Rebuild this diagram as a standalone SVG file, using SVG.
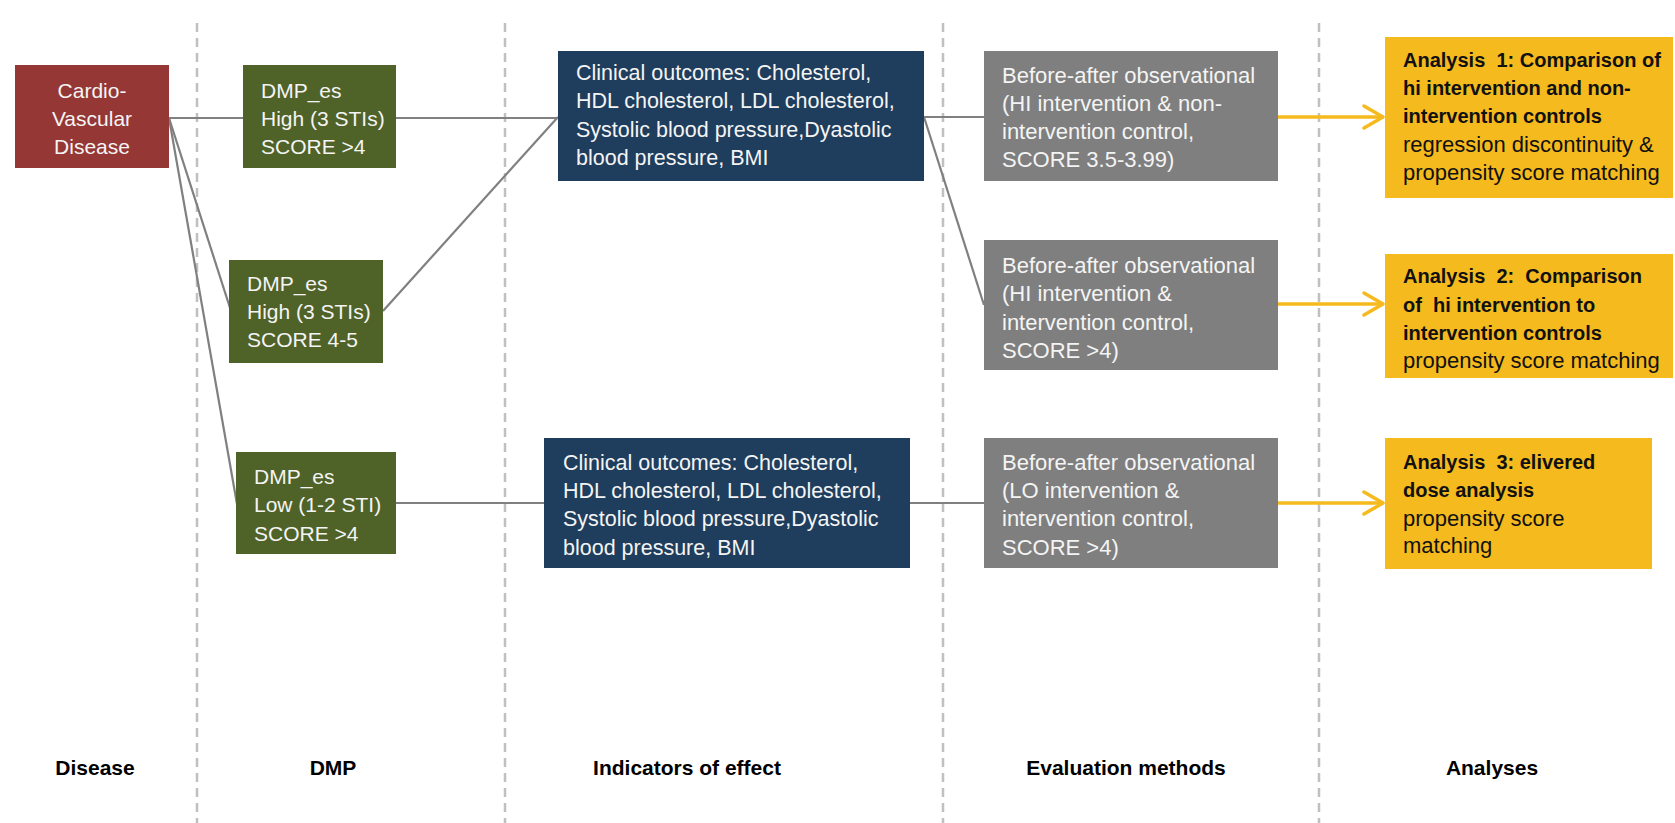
<svg xmlns="http://www.w3.org/2000/svg" width="1675" height="823" viewBox="0 0 1675 823">
  <style>
    .bg { fill: #ffffff; }
    .divider { stroke: #c0c0c0; stroke-width: 2.5; stroke-dasharray: 9 6; fill: none; }
    .link { stroke: #808080; stroke-width: 2.2; fill: none; }
    .flow { stroke: #f5ba1e; stroke-width: 3.5; fill: none; stroke-linecap: round; stroke-linejoin: round; }
    .disease { fill: #953735; }
    .dmp { fill: #4f6228; }
    .indicator { fill: #1f3d5c; }
    .method { fill: #7f7f7f; }
    .analysis { fill: #f5ba1e; }
    text { font-family: "Liberation Sans", Arial, sans-serif; }
    .wt { fill: #f4f4f4; font-size: 21px; }
    .ind { fill: #f4f4f4; font-size: 21.5px; }
    .ev { fill: #f4f4f4; font-size: 22px; }
    .bt { fill: #111111; font-size: 20px; font-weight: bold; }
    .rt { fill: #111111; font-size: 22px; }
    .hd { fill: #000000; font-size: 21px; font-weight: bold; text-anchor: middle; }
  </style>

  <rect class="bg" x="0" y="0" width="1675" height="823"/>

  <!-- column dividers -->
  <g id="dividers">
    <line class="divider" x1="197" y1="23" x2="197" y2="823"/>
    <line class="divider" x1="505" y1="23" x2="505" y2="823"/>
    <line class="divider" x1="943" y1="23" x2="943" y2="823"/>
    <line class="divider" x1="1319" y1="23" x2="1319" y2="823"/>
  </g>

  <!-- connectors -->
  <g id="connectors">
    <line class="link" x1="169" y1="118" x2="243" y2="118"/>
    <line class="link" x1="169" y1="118" x2="231" y2="311"/>
    <line class="link" x1="169" y1="118" x2="237" y2="504"/>
    <line class="link" x1="396" y1="118" x2="558" y2="118"/>
    <line class="link" x1="383" y1="311" x2="558" y2="117"/>
    <line class="link" x1="396" y1="503" x2="544" y2="503"/>
    <line class="link" x1="924" y1="117" x2="984" y2="117"/>
    <line class="link" x1="924" y1="117" x2="984" y2="305"/>
    <line class="link" x1="910" y1="503" x2="984" y2="503"/>
    <line class="flow" x1="1278" y1="117" x2="1382" y2="117"/>
    <polyline class="flow" points="1364,106 1383,117 1364,128"/>
    <line class="flow" x1="1278" y1="304" x2="1382" y2="304"/>
    <polyline class="flow" points="1364,293 1383,304 1364,315"/>
    <line class="flow" x1="1278" y1="503" x2="1382" y2="503"/>
    <polyline class="flow" points="1364,492 1383,503 1364,514"/>
  </g>

  <g id="cvd">
    <rect class="disease" x="15" y="65" width="154" height="103"/>
    <text class="wt" x="92" y="98" text-anchor="middle">Cardio-</text>
    <text class="wt" x="92" y="126" text-anchor="middle">Vascular</text>
    <text class="wt" x="92" y="154" text-anchor="middle">Disease</text>
  </g>

  <g id="dmp-high-1">
    <rect class="dmp" x="243" y="65" width="153" height="103"/>
    <text class="wt" x="261" y="98">DMP_es</text>
    <text class="wt" x="261" y="126">High (3 STIs)</text>
    <text class="wt" x="261" y="154">SCORE &gt;4</text>
  </g>

  <g id="dmp-high-2">
    <rect class="dmp" x="229" y="260" width="154" height="103"/>
    <text class="wt" x="247" y="291">DMP_es</text>
    <text class="wt" x="247" y="319">High (3 STIs)</text>
    <text class="wt" x="247" y="347">SCORE 4-5</text>
  </g>

  <g id="dmp-low">
    <rect class="dmp" x="236" y="452" width="160" height="102"/>
    <text class="wt" x="254" y="484">DMP_es</text>
    <text class="wt" x="254" y="512">Low (1-2 STI)</text>
    <text class="wt" x="254" y="541">SCORE &gt;4</text>
  </g>

  <g id="outcomes-1">
    <rect class="indicator" x="558" y="51" width="366" height="130"/>
    <text class="ind" x="576" y="80">Clinical outcomes: Cholesterol,</text>
    <text class="ind" x="576" y="108">HDL cholesterol, LDL cholesterol,</text>
    <text class="ind" x="576" y="137">Systolic blood pressure,Dyastolic</text>
    <text class="ind" x="576" y="165">blood pressure, BMI</text>
  </g>

  <g id="outcomes-2">
    <rect class="indicator" x="544" y="438" width="366" height="130"/>
    <text class="ind" x="563" y="470">Clinical outcomes: Cholesterol,</text>
    <text class="ind" x="563" y="498">HDL cholesterol, LDL cholesterol,</text>
    <text class="ind" x="563" y="526">Systolic blood pressure,Dyastolic</text>
    <text class="ind" x="563" y="555">blood pressure, BMI</text>
  </g>

  <g id="method-1">
    <rect class="method" x="984" y="51" width="294" height="130"/>
    <text class="ev" x="1002" y="83">Before-after observational</text>
    <text class="ev" x="1002" y="111">(HI intervention &amp; non-</text>
    <text class="ev" x="1002" y="139">intervention control,</text>
    <text class="ev" x="1002" y="167">SCORE 3.5-3.99)</text>
  </g>

  <g id="method-2">
    <rect class="method" x="984" y="240" width="294" height="130"/>
    <text class="ev" x="1002" y="273">Before-after observational</text>
    <text class="ev" x="1002" y="301">(HI intervention &amp;</text>
    <text class="ev" x="1002" y="330">intervention control,</text>
    <text class="ev" x="1002" y="358">SCORE &gt;4)</text>
  </g>

  <g id="method-3">
    <rect class="method" x="984" y="438" width="294" height="130"/>
    <text class="ev" x="1002" y="470">Before-after observational</text>
    <text class="ev" x="1002" y="498">(LO intervention &amp;</text>
    <text class="ev" x="1002" y="526">intervention control,</text>
    <text class="ev" x="1002" y="555">SCORE &gt;4)</text>
  </g>

  <g id="analysis-1">
    <rect class="analysis" x="1385" y="37" width="288" height="161"/>
    <text class="bt" x="1403" y="67" xml:space="preserve">Analysis  1: Comparison of</text>
    <text class="bt" x="1403" y="95">hi intervention and non-</text>
    <text class="bt" x="1403" y="123">intervention controls</text>
    <text class="rt" x="1403" y="152">regression discontinuity &amp;</text>
    <text class="rt" x="1403" y="180">propensity score matching</text>
  </g>

  <g id="analysis-2">
    <rect class="analysis" x="1385" y="254" width="288" height="124"/>
    <text class="bt" x="1403" y="283" xml:space="preserve">Analysis  2:  Comparison</text>
    <text class="bt" x="1403" y="312" xml:space="preserve">of  hi intervention to</text>
    <text class="bt" x="1403" y="340">intervention controls</text>
    <text class="rt" x="1403" y="368">propensity score matching</text>
  </g>

  <g id="analysis-3">
    <rect class="analysis" x="1385" y="438" width="267" height="131"/>
    <text class="bt" x="1403" y="469" xml:space="preserve">Analysis  3: elivered</text>
    <text class="bt" x="1403" y="497">dose analysis</text>
    <text class="rt" x="1403" y="526">propensity score</text>
    <text class="rt" x="1403" y="553">matching</text>
  </g>

  <!-- column headings -->
  <g id="headings">
    <text class="hd" x="95" y="775">Disease</text>
    <text class="hd" x="333" y="775">DMP</text>
    <text class="hd" x="687" y="775">Indicators of effect</text>
    <text class="hd" x="1126" y="775">Evaluation methods</text>
    <text class="hd" x="1492" y="775">Analyses</text>
  </g>
</svg>
